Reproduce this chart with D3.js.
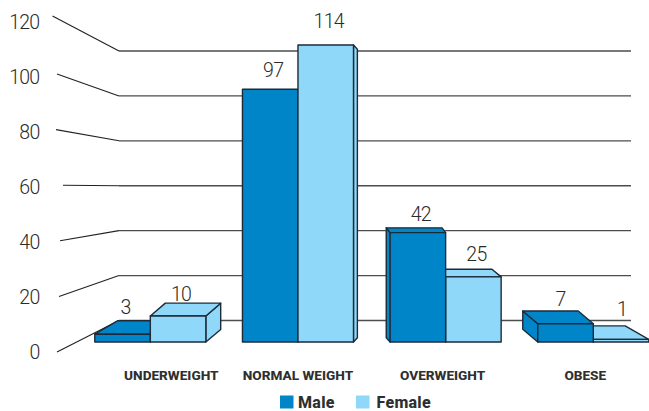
<!DOCTYPE html>
<html>
<head>
<meta charset="utf-8">
<script src="https://cdn.jsdelivr.net/npm/d3@7/dist/d3.min.js"></script>
<style>
  html, body { margin: 0; padding: 0; background: #fff; }
  svg { display: block; }
  text { font-family: Roboto, sans-serif; }
</style>
</head>
<body>
<svg id="chart" width="649" height="411"></svg>
<script>
// Body-weight groups by sex
const categories = ["UNDERWEIGHT", "NORMAL WEIGHT", "OVERWEIGHT", "OBESE"];
const seriesNames = ["Male", "Female"];
const maleValues = [3, 97, 42, 7];
const femaleValues = [10, 114, 25, 1];
const tickValues = [0, 20, 40, 60, 80, 100, 120];

const colors = { Male: "#0085c9", Female: "#8fd8f9" };
const edge = "#1d2b38";

const svg = d3.select("#chart");

// Front plane of the bars, back wall of the grid and the slanted axis edge
const yFront = d3.scaleLinear().domain([0, 120]).range([342, 29.4]);
const yBack = d3.scaleLinear().domain([0, 120]).range([320.5, 51]);
const yTickEnd = d3.scaleLinear().domain([0, 100, 120]).range([352, 74, 16]);
const yTickLabel = d3.scaleLinear().domain([0, 120]).range([352, 21.5]);
const xTickEnd = d3.scaleOrdinal().domain(tickValues).range([57, 59, 60, 63, 56, 57, 52.5]);

const xBand = d3.scaleBand().domain(categories).range([94.8, 648.8]).paddingInner(0.248).paddingOuter(0);
const xBar = d3.scaleBand().domain(seriesNames).range([0, xBand.bandwidth()]);

// Depth of a bar corner grows with its distance from the vanishing point
const vanishX = 370, vanishY = 193;
const depthX = d3.scaleLinear().domain([0, 75, 130, 165, 223, 278]).range([4, 3.5, 9, 15, 15, 23.5]);
const depthY = d3.scaleLinear().domain([0, 75, 130, 165, 223, 278]).range([4, 4.7, 7.5, 12.7, 12.8, 13.5]);
function back(x, y) {
  const d = Math.abs(x - vanishX);
  return [x + Math.sign(vanishX - x) * depthX(d), y + Math.sign(vanishY - y) * depthY(d)];
}

// Back wall
const grid = svg.append("g");
grid.selectAll("line.grid").data(tickValues).join("line")
  .attr("class", "grid")
  .attr("x1", 119).attr("x2", 631)
  .attr("y1", d => yBack(d)).attr("y2", d => yBack(d))
  .attr("stroke", "#4d4d4d").attr("stroke-width", 1.3);
grid.selectAll("line.slant").data(tickValues).join("line")
  .attr("class", "slant")
  .attr("x1", d => xTickEnd(d)).attr("y1", d => yTickEnd(d))
  .attr("x2", 119).attr("y2", d => yBack(d))
  .attr("stroke", "#222").attr("stroke-width", 1.1);
grid.selectAll("text").data(tickValues).join("text")
  .attr("x", 39.5).attr("y", d => yTickLabel(d))
  .attr("dy", "0.36em").attr("text-anchor", "end")
  .attr("font-size", 19.5).attr("font-weight", 300).attr("letter-spacing", -0.7).attr("fill", "#2b2b2b")
  .text(d => d);

// Bars, drawn so that the one nearer the vanishing point ends up on top
const bars = categories.map((c, i) => {
  const pair = seriesNames.map((s, j) => ({
    category: c, series: s, index: i,
    value: (j === 0 ? maleValues : femaleValues)[i],
    x0: xBand(c) + xBar(s),
    x1: xBand(c) + xBar(s) + xBar.bandwidth()
  }));
  return xBand(c) + xBand.bandwidth() / 2 > vanishX ? pair.reverse() : pair;
}).flat();

const path = pts => "M" + pts.map(p => p.join(",")).join("L") + "Z";
const barGroups = svg.append("g").selectAll("g").data(bars).join("g")
  .attr("fill", d => colors[d.series])
  .attr("stroke", edge).attr("stroke-width", 1.4).attr("stroke-linejoin", "round");

barGroups.each(function (d) {
  const g = d3.select(this);
  const top = yFront(d.value), base = yFront(0);
  const tl = [d.x0, top], tr = [d.x1, top], bl = [d.x0, base], br = [d.x1, base];
  const btl = back(d.x0, top), btr = back(d.x1, top), bbl = back(d.x0, base), bbr = back(d.x1, base);
  // The rear edge of a top face stays level
  if (top > vanishY) btl[1] = btr[1] = Math.min(btl[1], btr[1]);
  if (btl[0] < d.x0) g.append("path").attr("d", path([tl, btl, bbl, bl]));
  if (btr[0] > d.x1) g.append("path").attr("d", path([tr, btr, bbr, br]));
  if (top > vanishY) g.append("path").attr("d", path([tl, btl, btr, tr]));
  g.append("path").attr("d", path([tl, tr, br, bl]));
});

// Value labels, lifted clear of each bar's top face
const labelLift = { Male: [27, 19, 19, 25], Female: [22, 24, 23, 30] };
const labelShift = { Male: [3, 3, 3, -5], Female: [3, 3, 3, 1] };
svg.append("g").selectAll("text").data(bars).join("text")
  .attr("x", d => (d.x0 + d.x1) / 2 + labelShift[d.series][d.index])
  .attr("y", d => yFront(d.value) - labelLift[d.series][d.index])
  .attr("dy", "0.36em").attr("text-anchor", "middle")
  .attr("font-size", 19.5).attr("font-weight", 300).attr("letter-spacing", -0.7).attr("fill", "#2b2b2b")
  .text(d => d.value);

// Category names
const categoryShift = [21, 0, -3, -8];
svg.append("g").selectAll("text").data(categories).join("text")
  .attr("x", (d, i) => xBand(d) + xBand.bandwidth() / 2 + categoryShift[i])
  .attr("y", 379.5).attr("text-anchor", "middle")
  .attr("font-size", 13.6).attr("font-weight", 800).attr("fill", "#2f2f2f")
  .text(d => d);

// Legend
const legendTextGap = [18, 20.5];
const legend = svg.append("g").selectAll("g").data(seriesNames).join("g")
  .attr("transform", (d, i) => `translate(${280 + i * 76},395.5)`);
legend.append("rect").attr("width", 13.5).attr("height", 13).attr("fill", d => colors[d]);
legend.append("text").attr("x", (d, i) => legendTextGap[i]).attr("y", 12.5)
  .attr("font-size", 16).attr("font-weight", 800).attr("letter-spacing", 0.3).attr("fill", "#2f2f2f")
  .text(d => d);
</script>
</body>
</html>
